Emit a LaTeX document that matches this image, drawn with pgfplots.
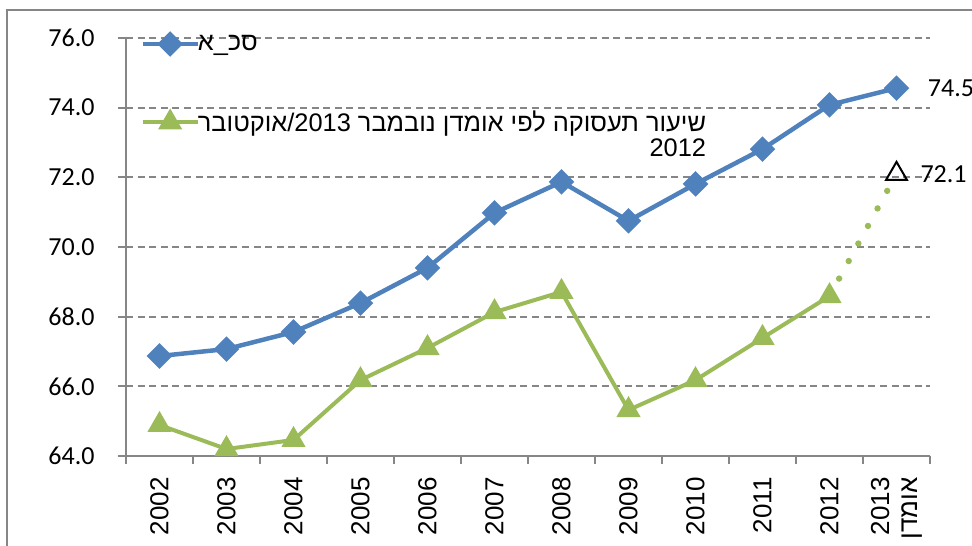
\documentclass[border=0pt]{standalone}
\usepackage{fontspec}
\setmainfont{Liberation Sans}
\newfontfamily\heb[Script=Hebrew]{Liberation Sans}
\newfontfamily\calfont{Carlito}
\usepackage{pgfplots}
\pgfplotsset{compat=1.18}
\TeXXeTstate=1
\definecolor{blu}{HTML}{4F81BD}
\definecolor{grn}{HTML}{9BBB59}
\definecolor{gry}{HTML}{868686}

\begin{document}
\begin{tikzpicture}[x=1pt,y=1pt]
\path[use as bounding box] (-63,-44.5) rectangle (423,228);
\draw[gry, line width=0.8pt] (-59.5,-60) -- (-59.5,223) -- (440,223);
\begin{axis}[
  at={(0,0)}, anchor=south west,
  scale only axis, width=402pt, height=209pt,
  xmin=-0.5, xmax=11.5, ymin=64, ymax=76,
  clip=false,
  axis lines=left,
  axis line style={gry, line width=1pt, -},
  tick align=outside,
  xtick={0,1,2,3,4,5,6,7,8,9,10,11},
  xticklabels={2002,2003,2004,2005,2006,2007,2008,2009,2010,2011,2012,{2013\\{\heb\beginR אומדן\endR}}},
  major x tick style={draw=none},
  minor xtick={-0.5,0.5,...,11.5},
  minor tick length=4pt,
  major tick length=4pt,
  tick style={gry, line width=1pt},
  x tick label style={rotate=90, anchor=east, align=right, inner sep=0pt, xshift=-6.5pt,
    font=\fontsize{13}{14}\selectfont},
  ytick={64,66,...,76},
  ymajorgrids,
  grid style={gry, line width=0.9pt, dash pattern=on 3.5pt off 2.3pt},
  y tick label style={font=\calfont\fontsize{13}{14}\selectfont, inner sep=0pt, xshift=-11.5pt,
    /pgf/number format/.cd, fixed, fixed zerofill, precision=1, assume math mode=true},
  legend image code/.code={
    \draw[#1] (0pt,0pt) -- (27.5pt,0pt);
    \draw[#1, mark repeat=2, mark phase=2] plot coordinates {(0pt,0pt) (13.75pt,0pt) (27.5pt,0pt)};
  },
  legend style={at={(rel axis cs:0,1)}, anchor=north west, xshift=7pt, yshift=2pt,
    draw=none, fill=none, inner sep=0pt, row sep=28.5pt,
    font=\fontsize{12.7}{14.5}\selectfont,
    nodes={inner sep=0pt},
    cells={anchor=west, inner sep=0pt},
    /tikz/every odd column/.append style={column sep=-1pt}},
]
\addplot[blu, line width=2.25pt, mark=square*, mark size=3.4pt, mark options={rotate=45, solid}]
  coordinates {(0,66.87) (1,67.07) (2,67.56) (3,68.39) (4,69.40) (5,70.98)
               (6,71.87) (7,70.75) (8,71.81) (9,72.81) (10,74.08) (11,74.56)};
\addlegendentry{{\heb\beginR סכ\_א\endR}}
\addplot[grn, line width=2pt, mark=triangle*, mark size=5pt, mark options={solid}]
  coordinates {(0,64.89) (1,64.20) (2,64.46) (3,66.18) (4,67.10) (5,68.13)
               (6,68.71) (7,65.32) (8,66.18) (9,67.39) (10,68.59)};
\addlegendentry{{\heb\beginR שיעור תעסוקה לפי אומדן נובמבר \beginL\mbox{2013}\endL\mbox{/}אוקטובר\endR}\llap{\smash{\raisebox{-12.5pt}{2012}}}}
\addplot[grn, line width=3.2pt, line cap=round, dash pattern=on 0pt off 10pt, forget plot]
  coordinates {(10,68.59) (11,72.1)};
\addplot[black, line width=1pt, only marks, mark=triangle, mark size=6pt, forget plot,
  nodes near coords, point meta=explicit symbolic,
  nodes near coords style={anchor=west, xshift=11.5pt, inner sep=0pt, font=\calfont\fontsize{13}{14}\selectfont}]
  coordinates {(11,72.1) [72.1]};
\addplot[draw=none, mark=none, forget plot,
  nodes near coords, point meta=explicit symbolic,
  nodes near coords style={anchor=west, xshift=15.5pt, inner sep=0pt, font=\calfont\fontsize{13}{14}\selectfont}]
  coordinates {(11,74.56) [74.5]};
\end{axis}
\end{tikzpicture}
\end{document}
